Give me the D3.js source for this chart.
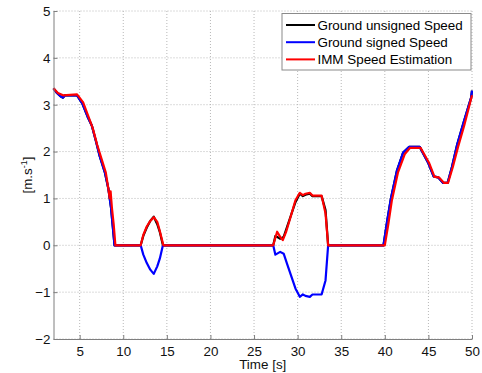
<!DOCTYPE html>
<html>
<head>
<meta charset="utf-8">
<script src="https://cdn.jsdelivr.net/npm/d3@7"></script>
<style>
  html, body { margin: 0; padding: 0; background: #fff; }
  svg { display: block; font-family: "Liberation Sans", Arial, sans-serif; }
</style>
</head>
<body>
<svg id="chart" width="482" height="373"></svg>
<script>
// axis ticks
const xTicks = [5, 10, 15, 20, 25, 30, 35, 40, 45, 50];
const yTicks = [-2, -1, 0, 1, 2, 3, 4, 5];

// Ground unsigned speed (black)
const blackTime = [2, 2.4, 2.8, 3.1, 3.3, 4.7, 5.3, 5.9, 6.4, 6.9, 7.3, 7.9, 8.3, 8.6, 8.8, 9.0, 12.0, 12.3, 12.7, 13.1, 13.5, 13.9, 14.2, 14.55, 27.2, 27.45, 28.0, 28.4, 28.8, 29.2, 29.75, 30.25, 30.6, 30.9, 31.4, 31.7, 32.75, 33.2, 33.5, 39.85, 40.3, 40.7, 41.4, 42.1, 42.8, 44.0, 45.0, 45.6, 46.1, 46.7, 47.2, 47.7, 48.3, 49.0, 49.9, 50];
const blackVal = [3.35, 3.25, 3.18, 3.15, 3.2, 3.2, 3.03, 2.75, 2.55, 2.2, 1.9, 1.55, 1.2, 0.8, 0.4, 0, 0, 0.2, 0.38, 0.52, 0.61, 0.45, 0.28, 0, 0, 0.2, 0.14, 0.18, 0.4, 0.62, 0.92, 1.1, 1.05, 1.08, 1.1, 1.05, 1.05, 0.75, 0, 0, 0.55, 1.0, 1.6, 1.98, 2.1, 2.1, 1.75, 1.47, 1.45, 1.33, 1.33, 1.67, 2.15, 2.6, 3.15, 3.3];

// Ground signed speed (blue)
const blueTime = [2, 2.4, 2.8, 3.1, 3.3, 4.7, 5.3, 5.9, 6.4, 6.9, 7.3, 7.9, 8.3, 8.6, 8.8, 9.0, 12.0, 12.3, 12.7, 13.1, 13.5, 13.9, 14.2, 14.55, 27.2, 27.45, 28.0, 28.4, 28.8, 29.2, 29.75, 30.25, 30.6, 30.9, 31.4, 31.7, 32.75, 33.2, 33.5, 39.85, 40.3, 40.7, 41.4, 42.1, 42.8, 44.0, 45.0, 45.6, 46.1, 46.7, 47.2, 47.7, 48.3, 49.0, 49.9, 50];
const blueVal = [3.35, 3.25, 3.18, 3.15, 3.2, 3.2, 3.03, 2.75, 2.55, 2.2, 1.9, 1.55, 1.2, 0.8, 0.4, 0, 0, -0.2, -0.38, -0.52, -0.61, -0.45, -0.28, 0, 0, -0.2, -0.14, -0.18, -0.4, -0.62, -0.92, -1.1, -1.05, -1.08, -1.1, -1.05, -1.05, -0.75, 0, 0, 0.55, 1.0, 1.6, 1.98, 2.1, 2.1, 1.75, 1.47, 1.45, 1.33, 1.33, 1.67, 2.15, 2.6, 3.15, 3.3];

// IMM speed estimation (red)
const redTime = [2, 2.5, 3.1, 4.7, 5.4, 6.0, 6.5, 7.0, 7.5, 8.0, 8.3, 8.45, 8.55, 8.7, 8.9, 9.1, 12.0, 12.3, 12.7, 13.1, 13.5, 13.9, 14.2, 14.6, 27.2, 27.65, 28.0, 28.3, 28.7, 29.2, 29.75, 30.25, 30.6, 30.9, 31.4, 31.7, 32.75, 33.2, 33.5, 40.0, 40.4, 40.8, 41.5, 42.3, 42.9, 44.1, 45.1, 45.7, 46.2, 46.8, 47.25, 47.8, 48.4, 49.1, 50];
const redVal = [3.35, 3.25, 3.2, 3.22, 3.05, 2.75, 2.5, 2.15, 1.85, 1.55, 1.2, 1.0, 1.15, 0.8, 0.45, 0, 0, 0.22, 0.4, 0.52, 0.6, 0.5, 0.3, 0, 0, 0.29, 0.18, 0.11, 0.3, 0.61, 0.96, 1.12, 1.07, 1.1, 1.12, 1.06, 1.06, 0.68, 0, 0, 0.45, 0.95, 1.55, 1.95, 2.08, 2.08, 1.75, 1.46, 1.45, 1.33, 1.33, 1.67, 2.1, 2.55, 3.2];

const seriesNames = ['Ground unsigned Speed', 'Ground signed Speed', 'IMM Speed Estimation'];
const seriesColors = ['#000000', '#0000ff', '#ff0000'];

const MARGIN = { top: 11, right: 10, bottom: 34, left: 53.5 };
const WIDTH = 482;
const HEIGHT = 373;
const FONT = 13.4;

const svg = d3.select('#chart');
const innerW = WIDTH - MARGIN.left - MARGIN.right;
const innerH = HEIGHT - MARGIN.top - MARGIN.bottom;
const g = svg.append('g').attr('transform', `translate(${MARGIN.left},${MARGIN.top})`);

const x = d3.scaleLinear().domain([2, 50]).range([0, innerW]);
const y = d3.scaleLinear().domain([-2, 5]).range([innerH, 0]);

// dotted grid
const gridG = g.append('g').attr('class', 'grid');
gridG.selectAll('line.gx')
  .data(xTicks)
  .enter().append('line')
  .attr('x1', (d) => x(d)).attr('x2', (d) => x(d))
  .attr('y1', 0).attr('y2', innerH)
  .attr('stroke', '#b8b8b8').attr('stroke-width', 1)
  .attr('stroke-dasharray', '1,2');
gridG.selectAll('line.gy')
  .data(yTicks)
  .enter().append('line')
  .attr('x1', 0).attr('x2', innerW)
  .attr('y1', (d) => y(d)).attr('y2', (d) => y(d))
  .attr('stroke', '#b8b8b8').attr('stroke-width', 1)
  .attr('stroke-dasharray', '1,2');

// series
const line = d3.line().x((d) => x(d[0])).y((d) => y(d[1]));
const series = [
  d3.zip(blackTime, blackVal),
  d3.zip(blueTime, blueVal),
  d3.zip(redTime, redVal),
];
const linesG = g.append('g').attr('class', 'lines');
linesG.selectAll('path')
  .data(series)
  .enter().append('path')
  .attr('d', line)
  .attr('fill', 'none')
  .attr('stroke', (d, i) => seriesColors[i])
  .attr('stroke-width', 2.2)
  .attr('stroke-linejoin', 'round');

// axes (inward ticks)
const xAxisG = g.append('g')
  .attr('transform', `translate(0,${innerH})`)
  .call(d3.axisBottom(x).tickValues(xTicks).tickFormat(d3.format('d'))
    .tickSizeInner(-4).tickSizeOuter(0).tickPadding(7));
const yAxisG = g.append('g')
  .call(d3.axisLeft(y).tickValues(yTicks).tickFormat(d3.format('d'))
    .tickSizeInner(-4).tickSizeOuter(0).tickPadding(3));

[xAxisG, yAxisG].forEach((ax) => {
  ax.select('.domain').attr('stroke', '#7f7f7f');
  ax.selectAll('.tick line').attr('stroke', '#7f7f7f');
  ax.selectAll('.tick text')
    .attr('fill', '#111')
    .style('font-size', `${FONT}px`)
    .style('font-family', '"Liberation Sans", Arial, sans-serif');
});

// axis labels
svg.append('text')
  .attr('x', MARGIN.left + innerW / 2)
  .attr('y', 369)
  .attr('text-anchor', 'middle')
  .attr('fill', '#111')
  .style('font-size', `${FONT}px`)
  .text('Time [s]');

const yLabel = svg.append('text')
  .attr('transform', `translate(32,${MARGIN.top + innerH / 2}) rotate(-90)`)
  .attr('text-anchor', 'middle')
  .attr('fill', '#111')
  .style('font-size', `${FONT}px`);
yLabel.append('tspan').text('[m.s');
yLabel.append('tspan').attr('dy', -5).style('font-size', '9px').text('-1');
yLabel.append('tspan').attr('dy', 5).text(']');

// legend
const legend = svg.append('g').attr('transform', 'translate(282,13.5)');
legend.append('rect')
  .attr('width', 189).attr('height', 56.5)
  .attr('fill', '#fff')
  .attr('stroke', '#8a8a8a').attr('stroke-width', 1);
const rows = legend.selectAll('g.row')
  .data(seriesNames)
  .enter().append('g')
  .attr('transform', (d, i) => `translate(0,${11.5 + i * 17.2})`);
rows.append('line')
  .attr('x1', 4).attr('x2', 33)
  .attr('stroke', (d, i) => seriesColors[i])
  .attr('stroke-width', 2);
rows.append('text')
  .attr('x', 35.5).attr('y', 0)
  .attr('dy', '0.36em')
  .attr('fill', '#000')
  .style('font-size', `${FONT}px`)
  .text((d) => d);
</script>
</body>
</html>
